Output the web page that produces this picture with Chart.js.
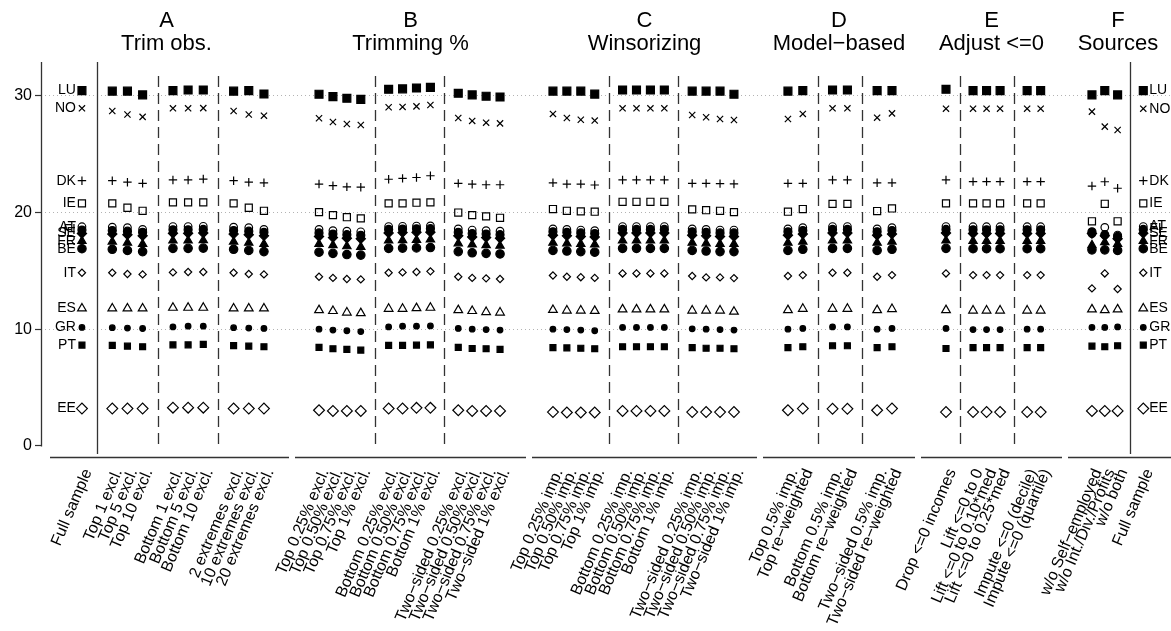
<!DOCTYPE html>
<html>
<head>
<meta charset="utf-8">
<script src="https://cdn.jsdelivr.net/npm/chart.js@4.4.1/dist/chart.umd.min.js"></script>
<style>
  html, body { margin: 0; padding: 0; background: #fff; }
  #wrap { width: 1171px; height: 631px; }
</style>
</head>
<body>
<div id="wrap"><canvas id="robustnessCanvas" width="1171" height="631"></canvas></div>
<script>
const FONT = "'Liberation Sans', Arial, Helvetica, sans-serif";

// x labels, one list per panel
const labelsA = ['Full sample', 'Top 1 excl.', 'Top 5 excl.', 'Top 10 excl.',
    'Bottom 1 excl.', 'Bottom 5 excl.', 'Bottom 10 excl.',
    '2 extremes excl.', '10 extremes excl.', '20 extremes excl.'];
const labelsB = ['Top 0.25% excl.', 'Top 0.50% excl.', 'Top 0.75% excl.', 'Top 1% excl.',
    'Bottom 0.25% excl.', 'Bottom 0.50% excl.', 'Bottom 0.75% excl.', 'Bottom 1% excl.',
    'Two−sided 0.25% excl.', 'Two−sided 0.50% excl.', 'Two−sided 0.75% excl.', 'Two−sided 1% excl.'];
const labelsC = ['Top 0.25% imp.', 'Top 0.50% imp.', 'Top 0.75% imp.', 'Top 1% imp.',
    'Bottom 0.25% imp.', 'Bottom 0.50% imp.', 'Bottom 0.75% imp.', 'Bottom 1% imp.',
    'Two−sided 0.25% imp.', 'Two−sided 0.50% imp.', 'Two−sided 0.75% imp.', 'Two−sided 1% imp.'];
const labelsD = ['Top 0.5% imp.', 'Top re−weighted', 'Bottom 0.5% imp.', 'Bottom re−weighted',
    'Two−sided 0.5% imp.', 'Two−sided re−weighted'];
const labelsE = ['Drop <=0 incomes', 'Lift <=0 to 0', 'Lift <=0 to 0.10*med', 'Lift <=0 to 0.25*med',
    'Impute <=0 (decile)', 'Impute <=0 (quartile)'];
const labelsF = ['w/o Self−employed', 'w/o Int./Div./Profits', 'w/o both', 'Full sample'];

const panelLetters = ['A', 'B', 'C', 'D', 'E', 'F'];
const panelNames = ['Trim obs.', 'Trimming %', 'Winsorizing', 'Model−based', 'Adjust <=0', 'Sources'];

const yTicks = [0, 10, 20, 30];

// values per country, in order A(10) B(12) C(12) D(6) E(6) F(4)
const LU = [30.45, 30.4, 30.4, 30.08, 30.45, 30.5, 30.5, 30.4, 30.45, 30.16,
    30.14, 29.93, 29.79, 29.7, 30.56, 30.6, 30.67, 30.73, 30.22, 30.08, 29.97, 29.9,
    30.4, 30.4, 30.4, 30.15, 30.5, 30.5, 30.5, 30.5, 30.4, 30.4, 30.4, 30.14,
    30.4, 30.45, 30.5, 30.5, 30.45, 30.45,
    30.56, 30.45, 30.45, 30.45, 30.45, 30.45,
    30.08, 30.45, 30.08, 30.45];
const NO = [28.93, 28.7, 28.4, 28.2, 28.93, 28.93, 28.95, 28.7, 28.4, 28.3,
    28.08, 27.76, 27.59, 27.5, 29.02, 29.05, 29.1, 29.22, 28.1, 27.85, 27.7, 27.64,
    28.45, 28.1, 27.95, 27.88, 28.93, 28.93, 28.93, 28.93, 28.36, 28.16, 28.02, 27.93,
    28.02, 28.45, 28.93, 28.93, 28.13, 28.5,
    28.9, 28.9, 28.9, 28.9, 28.9, 28.9,
    28.65, 27.36, 27.07, 28.9];
const DK = [22.73, 22.73, 22.6, 22.5, 22.79, 22.79, 22.87, 22.73, 22.6, 22.55,
    22.44, 22.3, 22.2, 22.17, 22.85, 22.93, 23.0, 23.15, 22.5, 22.43, 22.38, 22.38,
    22.55, 22.44, 22.44, 22.36, 22.79, 22.79, 22.79, 22.79, 22.5, 22.5, 22.48, 22.45,
    22.5, 22.5, 22.79, 22.79, 22.55, 22.55,
    22.79, 22.65, 22.65, 22.65, 22.65, 22.65,
    22.27, 22.64, 22.08, 22.73];
const IE = [20.79, 20.79, 20.41, 20.15, 20.87, 20.87, 20.87, 20.79, 20.41, 20.15,
    20.04, 19.78, 19.6, 19.5, 20.79, 20.79, 20.84, 20.87, 20.0, 19.78, 19.67, 19.55,
    20.3, 20.15, 20.1, 20.07, 20.92, 20.92, 20.92, 20.92, 20.27, 20.2, 20.15, 20.04,
    20.07, 20.3, 20.74, 20.74, 20.13, 20.35,
    20.79, 20.79, 20.79, 20.79, 20.79, 20.79,
    19.25, 20.75, 19.25, 20.79];
const AT = [18.78, 18.75, 18.7, 18.55, 18.8, 18.8, 18.82, 18.75, 18.7, 18.55,
    18.55, 18.45, 18.4, 18.35, 18.8, 18.82, 18.84, 18.86, 18.6, 18.5, 18.45, 18.4,
    18.6, 18.55, 18.5, 18.45, 18.8, 18.8, 18.8, 18.8, 18.6, 18.55, 18.5, 18.5,
    18.6, 18.7, 18.8, 18.8, 18.6, 18.7,
    18.8, 18.78, 18.78, 18.78, 18.78, 18.78,
    18.2, 18.73, 18.07, 18.8];
const FI = [18.5, 18.45, 18.4, 18.3, 18.52, 18.52, 18.55, 18.45, 18.4, 18.3,
    18.25, 18.15, 18.1, 18.05, 18.55, 18.58, 18.6, 18.62, 18.3, 18.2, 18.15, 18.1,
    18.35, 18.3, 18.25, 18.2, 18.55, 18.55, 18.55, 18.55, 18.35, 18.3, 18.25, 18.25,
    18.35, 18.45, 18.55, 18.55, 18.35, 18.45,
    18.55, 18.52, 18.52, 18.52, 18.52, 18.52,
    18.35, 18.1, 17.95, 18.55];
const SE = [18.2, 18.15, 18.1, 18.0, 18.22, 18.22, 18.25, 18.15, 18.1, 18.0,
    17.95, 17.85, 17.8, 17.75, 18.25, 18.28, 18.3, 18.32, 18.0, 17.9, 17.85, 17.8,
    18.05, 18.0, 17.95, 17.9, 18.25, 18.25, 18.25, 18.25, 18.05, 18.0, 17.95, 17.95,
    18.05, 18.15, 18.25, 18.25, 18.05, 18.15,
    18.25, 18.2, 18.2, 18.2, 18.2, 18.2,
    18.2, 18.0, 17.75, 18.22];
const FR = [17.55, 17.5, 17.4, 17.3, 17.6, 17.6, 17.62, 17.5, 17.4, 17.3,
    17.3, 17.2, 17.1, 17.05, 17.6, 17.62, 17.65, 17.68, 17.35, 17.25, 17.2, 17.15,
    17.4, 17.35, 17.3, 17.25, 17.6, 17.6, 17.6, 17.6, 17.4, 17.35, 17.3, 17.3,
    17.4, 17.5, 17.6, 17.6, 17.4, 17.5,
    17.6, 17.55, 17.55, 17.55, 17.55, 17.55,
    17.2, 17.45, 17.3, 17.55];
const BE = [16.9, 16.85, 16.75, 16.65, 16.93, 16.93, 16.95, 16.85, 16.75, 16.65,
    16.6, 16.5, 16.4, 16.35, 16.93, 16.95, 16.97, 17.0, 16.65, 16.55, 16.5, 16.45,
    16.75, 16.7, 16.65, 16.6, 16.93, 16.93, 16.93, 16.93, 16.75, 16.7, 16.65, 16.65,
    16.75, 16.85, 16.93, 16.93, 16.75, 16.85,
    16.93, 16.9, 16.9, 16.9, 16.9, 16.9,
    16.8, 16.8, 16.75, 16.9];
const IT = [14.84, 14.84, 14.73, 14.7, 14.87, 14.9, 14.9, 14.84, 14.73, 14.7,
    14.5, 14.4, 14.3, 14.27, 14.84, 14.87, 14.9, 14.96, 14.5, 14.4, 14.36, 14.3,
    14.6, 14.5, 14.46, 14.4, 14.78, 14.78, 14.78, 14.78, 14.56, 14.44, 14.44, 14.38,
    14.56, 14.64, 14.84, 14.84, 14.5, 14.64,
    14.78, 14.64, 14.64, 14.64, 14.64, 14.64,
    13.5, 14.78, 13.45, 14.84];
const ES = [11.78, 11.78, 11.78, 11.78, 11.84, 11.84, 11.84, 11.78, 11.78, 11.78,
    11.64, 11.56, 11.43, 11.38, 11.75, 11.75, 11.81, 11.84, 11.64, 11.56, 11.47, 11.43,
    11.65, 11.6, 11.6, 11.57, 11.7, 11.7, 11.7, 11.7, 11.6, 11.6, 11.6, 11.5,
    11.64, 11.75, 11.75, 11.75, 11.64, 11.73,
    11.64, 11.6, 11.6, 11.6, 11.6, 11.6,
    11.7, 11.64, 11.7, 11.78];
const GR = [10.15, 10.13, 10.1, 10.06, 10.2, 10.26, 10.26, 10.13, 10.1, 10.07,
    10.0, 9.93, 9.87, 9.8, 10.2, 10.26, 10.26, 10.28, 10.07, 10.0, 9.97, 9.93,
    10.0, 9.97, 9.93, 9.87, 10.15, 10.15, 10.15, 10.15, 10.03, 10.0, 9.97, 9.93,
    10.0, 10.07, 10.2, 10.2, 10.0, 10.07,
    10.07, 9.97, 9.97, 9.97, 10.0, 10.0,
    10.15, 10.15, 10.2, 10.15];
const PT = [8.64, 8.61, 8.55, 8.5, 8.66, 8.66, 8.7, 8.6, 8.55, 8.5,
    8.44, 8.33, 8.27, 8.21, 8.61, 8.61, 8.64, 8.66, 8.44, 8.35, 8.33, 8.27,
    8.42, 8.4, 8.37, 8.33, 8.5, 8.5, 8.5, 8.5, 8.42, 8.37, 8.37, 8.33,
    8.42, 8.5, 8.58, 8.58, 8.42, 8.5,
    8.35, 8.42, 8.42, 8.42, 8.42, 8.42,
    8.55, 8.5, 8.58, 8.64];
const EE = [3.2, 3.2, 3.2, 3.2, 3.28, 3.28, 3.28, 3.2, 3.2, 3.2,
    3.06, 3.0, 3.0, 3.0, 3.2, 3.2, 3.26, 3.26, 3.06, 3.0, 3.0, 3.0,
    2.9, 2.86, 2.86, 2.86, 3.0, 3.0, 3.0, 3.0, 2.9, 2.9, 2.9, 2.9,
    3.06, 3.2, 3.18, 3.18, 3.06, 3.2,
    2.9, 2.9, 2.9, 2.9, 2.9, 2.9,
    3.0, 3.0, 3.0, 3.2];

const countryNames = ['LU', 'NO', 'DK', 'IE', 'AT', 'FI', 'SE', 'FR', 'BE', 'IT', 'ES', 'GR', 'PT', 'EE'];
const countryValues = {LU, NO, DK, IE, AT, FI, SE, FR, BE, IT, ES, GR, PT, EE};

// marker look per country (imitating R pch symbols)
const markers = {
    LU: {style: 'rect', r: 5.6, filled: true},
    NO: {style: 'crossRot', r: 4.4, filled: false},
    DK: {style: 'cross', r: 4.2, filled: false},
    IE: {style: 'rect', r: 5.0, filled: false},
    AT: {style: 'circle', r: 3.8, filled: false},
    FI: {style: 'circle', r: 4.0, filled: true},
    SE: {style: 'rectRot', r: 4.6, filled: true},
    FR: {style: 'triangle', r: 4.8, filled: true},
    BE: {style: 'circle', r: 4.2, filled: true},
    IT: {style: 'rectRot', r: 3.6, filled: false},
    ES: {style: 'triangle', r: 5.0, filled: false},
    GR: {style: 'circle', r: 2.8, filled: true},
    PT: {style: 'rect', r: 4.2, filled: true},
    EE: {style: 'rectRot', r: 5.4, filled: false}
};

// panel layout: slot of each category on its own axis, gaps hold the separators
const panels = [
    {id: 'xA', labels: labelsA, slots: [0, 2, 3, 4, 6, 7, 8, 10, 11, 12], min: -2.7, max: 13.85, weight: 251, solid: [1], dashed: [5, 9]},
    {id: 'xB', labels: labelsB, slots: [0, 1, 2, 3, 5, 6, 7, 8, 10, 11, 12, 13], min: -1.94, max: 15.08, weight: 237, solid: [], dashed: [4, 9]},
    {id: 'xC', labels: labelsC, slots: [0, 1, 2, 3, 5, 6, 7, 8, 10, 11, 12, 13], min: -1.72, max: 14.87, weight: 231, solid: [], dashed: [4, 9]},
    {id: 'xD', labels: labelsD, slots: [0, 1, 3, 4, 6, 7], min: -1.88, max: 8.75, weight: 158, solid: [], dashed: [2, 5]},
    {id: 'xE', labels: labelsE, slots: [0, 2, 3, 4, 6, 7], min: -2.07, max: 8.8, weight: 147, solid: [], dashed: [1, 5]},
    {id: 'xF', labels: labelsF, slots: [0, 1, 2, 4], min: -2.1, max: 6.16, weight: 106, solid: [3], dashed: []}
];

function buildDatasets() {
    let datasets = [];
    for (let c of countryNames) {
        let values = countryValues[c];
        let m = markers[c];
        let offset = 0;
        panels.forEach(function (p, pi) {
            let pts = [];
            for (let k = 0; k < p.labels.length; k++) {
                pts.push({x: p.slots[k], y: values[offset + k]});
            }
            offset += p.labels.length;
            datasets.push({
                label: c,
                country: c,
                panel: pi,
                data: pts,
                xAxisID: p.id,
                yAxisID: 'y',
                showLine: false,
                pointStyle: m.style,
                pointRadius: m.r,
                pointHoverRadius: m.r,
                pointBorderWidth: 1.2,
                pointBorderColor: '#000',
                pointBackgroundColor: m.filled ? '#000' : 'rgba(0,0,0,0)'
            });
        });
    }
    return datasets;
}

function buildScales() {
    let scales = {
        y: {
            type: 'linear',
            position: 'left',
            min: -0.95,
            max: 32.9,
            afterBuildTicks: function (scale) { scale.ticks = yTicks.map(v => ({value: v})); },
            afterFit: function (scale) { scale.width = 41; },
            ticks: {color: '#000', font: {family: FONT, size: 16}, padding: 3},
            grid: {
                color: function (ctx) { return ctx.tick && ctx.tick.value > 0 ? '#b3b3b3' : 'rgba(0,0,0,0)'; },
                lineWidth: 1,
                tickColor: '#333',
                tickLength: 6,
                tickWidth: 1.2
            },
            // axis line itself is drawn by the plugin (it stops at 0)
            border: {display: false, dash: [1, 3]}
        }
    };
    panels.forEach(function (p) {
        scales[p.id] = {
            type: 'linear',
            axis: 'x',
            position: 'bottom',
            stack: 'panels',
            stackWeight: p.weight,
            min: p.min,
            max: p.max,
            afterBuildTicks: function (scale) { scale.ticks = p.slots.map(v => ({value: v})); },
            // fixed height, and no extra side padding for the rotated labels
            afterFit: function (scale) {
                scale.height = 174;
                scale.paddingLeft = 0;
                scale.paddingRight = 0;
            },
            ticks: {
                autoSkip: false,
                minRotation: 67,
                maxRotation: 67,
                color: '#000',
                font: {family: FONT, size: 16},
                padding: 9,
                labelOffset: 6,
                callback: function (value, index) { return p.labels[index]; }
            },
            grid: {display: false, drawTicks: false},
            border: {display: false}
        };
    });
    return scales;
}

// separators, axis lines, titles and country names
const panelDecor = {
    id: 'panelDecor',
    beforeDatasetsDraw(chart) {
        const ctx = chart.ctx;
        const area = chart.chartArea;
        const yScale = chart.scales.y;
        const dashTop = yScale.getPixelForValue(31.7);
        const dashBottom = yScale.getPixelForValue(0);
        ctx.save();
        ctx.strokeStyle = '#333';
        ctx.lineWidth = 1.3;
        // y axis line, from the top of the plot down to 0
        const yx = Math.round(area.left) + 0.5;
        ctx.beginPath();
        ctx.moveTo(yx, area.top);
        ctx.lineTo(yx, Math.round(dashBottom) + 0.5);
        ctx.stroke();
        panels.forEach(function (p, pi) {
            const sc = chart.scales[p.id];
            p.solid.forEach(function (s) {
                const x = Math.round(sc.getPixelForValue(s)) + 0.5;
                ctx.setLineDash([]);
                ctx.beginPath();
                ctx.moveTo(x, area.top);
                ctx.lineTo(x, area.bottom - 3);
                ctx.stroke();
            });
            p.dashed.forEach(function (s) {
                const x = Math.round(sc.getPixelForValue(s)) + 0.5;
                ctx.setLineDash([11, 6]);
                ctx.beginPath();
                ctx.moveTo(x, dashTop);
                ctx.lineTo(x, dashBottom);
                ctx.stroke();
            });
            // bottom axis segment of the panel
            ctx.setLineDash([]);
            ctx.beginPath();
            const y = Math.round(area.bottom) + 0.5;
            ctx.moveTo(sc.left + (pi === 0 ? 9 : 3), y);
            ctx.lineTo(pi === panels.length - 1 ? sc.right : sc.right - 3, y);
            ctx.stroke();
        });
        ctx.restore();
    },
    afterDatasetsDraw(chart) {
        const ctx = chart.ctx;
        ctx.save();
        ctx.fillStyle = '#000';
        // panel titles
        ctx.textAlign = 'center';
        ctx.textBaseline = 'alphabetic';
        ctx.font = '22px ' + FONT;
        panels.forEach(function (p, pi) {
            const sc = chart.scales[p.id];
            const cx = (sc.left + sc.right) / 2;
            ctx.fillText(panelLetters[pi], cx, 27);
            ctx.fillText(panelNames[pi], cx, 49.5);
        });
        // country names next to both full-sample columns
        ctx.font = '14px ' + FONT;
        ctx.textBaseline = 'middle';
        chart.data.datasets.forEach(function (ds, i) {
            const pts = chart.getDatasetMeta(i).data;
            if (ds.panel === 0) {
                ctx.textAlign = 'right';
                ctx.fillText(ds.country, pts[0].x - 6, pts[0].y);
            } else if (ds.panel === panels.length - 1) {
                const last = pts[pts.length - 1];
                ctx.textAlign = 'left';
                ctx.fillText(ds.country, last.x + 6, last.y);
            }
        });
        ctx.restore();
    }
};

let ctx = document.getElementById('robustnessCanvas').getContext('2d');
let robustnessChart = new Chart(ctx, {
    type: 'scatter',
    data: {datasets: buildDatasets()},
    plugins: [panelDecor],
    options: {
        responsive: false,
        animation: false,
        devicePixelRatio: 1,
        layout: {autoPadding: false, padding: {top: 62, left: 0, right: 0, bottom: 0}},
        scales: buildScales(),
        plugins: {
            legend: {display: false},
            tooltip: {enabled: false}
        }
    }
});
</script>
</body>
</html>
